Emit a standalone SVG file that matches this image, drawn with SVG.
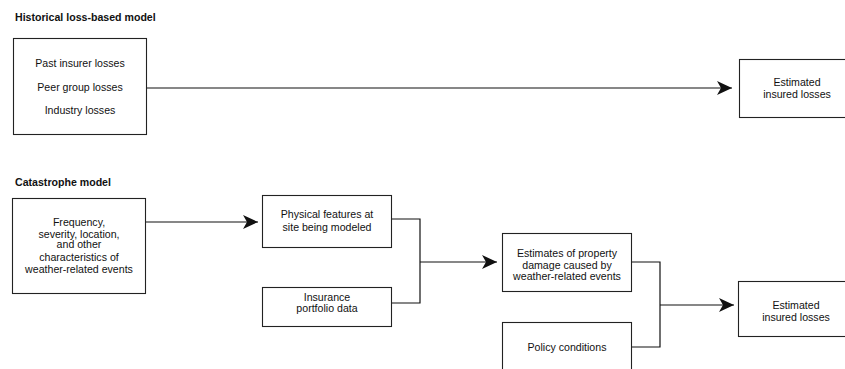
<svg xmlns="http://www.w3.org/2000/svg" width="845" height="369" viewBox="0 0 845 369">
<style>
.box{fill:#fff;stroke:#222;stroke-width:1.1}
.t{font-family:"Liberation Sans",Arial,sans-serif;font-size:10.6px;fill:#111;text-anchor:middle}
.h{font-family:"Liberation Sans",Arial,sans-serif;font-size:10.6px;font-weight:bold;fill:#111}
.c{fill:none;stroke:#111;stroke-width:1.2}
</style>
<defs>
<marker id="ah" markerWidth="16" markerHeight="14" refX="15" refY="7" orient="auto" markerUnits="userSpaceOnUse">
<path d="M0,0 L15,7 L0,14 L4,7 Z" fill="#111"/>
</marker>
</defs>
<text class="h" x="15" y="21">Historical loss-based model</text>
<text class="h" x="15" y="186">Catastrophe model</text>
<g id="past">
<rect class="box" x="13.5" y="38.5" width="133" height="96"/>
<text class="t" x="80" y="67">Past insurer losses</text>
<text class="t" x="80" y="91">Peer group losses</text>
<text class="t" x="80" y="114">Industry losses</text>
</g>
<g id="est1">
<rect class="box" x="739.5" y="59.5" width="110" height="58"/>
<text class="t" x="797" y="86">Estimated</text>
<text class="t" x="797" y="98">insured losses</text>
</g>
<g id="freq">
<rect class="box" x="12.5" y="198.5" width="133" height="95"/>
<text class="t" x="79" y="226">Frequency,</text>
<text class="t" x="79" y="237.5">severity, location,</text>
<text class="t" x="79" y="248">and other</text>
<text class="t" x="79" y="261">characteristics of</text>
<text class="t" x="79" y="273">weather-related events</text>
</g>
<g id="phys">
<rect class="box" x="262.5" y="195.5" width="129" height="52"/>
<text class="t" x="327" y="218">Physical features at</text>
<text class="t" x="327" y="231">site being modeled</text>
</g>
<g id="ins">
<rect class="box" x="262.5" y="287.5" width="129" height="39"/>
<text class="t" x="327" y="301">Insurance</text>
<text class="t" x="327" y="312">portfolio data</text>
</g>
<g id="dmg">
<rect class="box" x="502.5" y="233.5" width="129" height="58"/>
<text class="t" x="567" y="257">Estimates of property</text>
<text class="t" x="567" y="269">damage caused by</text>
<text class="t" x="567" y="280">weather-related events</text>
</g>
<g id="policy">
<rect class="box" x="502.5" y="322.5" width="129" height="60"/>
<text class="t" x="567" y="351">Policy conditions</text>
</g>
<g id="est2">
<rect class="box" x="738.5" y="281.5" width="110" height="55"/>
<text class="t" x="796" y="309">Estimated</text>
<text class="t" x="796" y="321">insured losses</text>
</g>
<g id="connectors">
<line class="c" x1="147" y1="88" x2="732" y2="88" marker-end="url(#ah)"/>
<line class="c" x1="146" y1="222" x2="258" y2="222" marker-end="url(#ah)"/>
<polyline class="c" points="392,219 420,219 420,303 392,303"/>
<line class="c" x1="420" y1="262" x2="497" y2="262" marker-end="url(#ah)"/>
<polyline class="c" points="632,262 660,262 660,347 632,347"/>
<line class="c" x1="660" y1="305" x2="734" y2="305" marker-end="url(#ah)"/>
</g>
</svg>
